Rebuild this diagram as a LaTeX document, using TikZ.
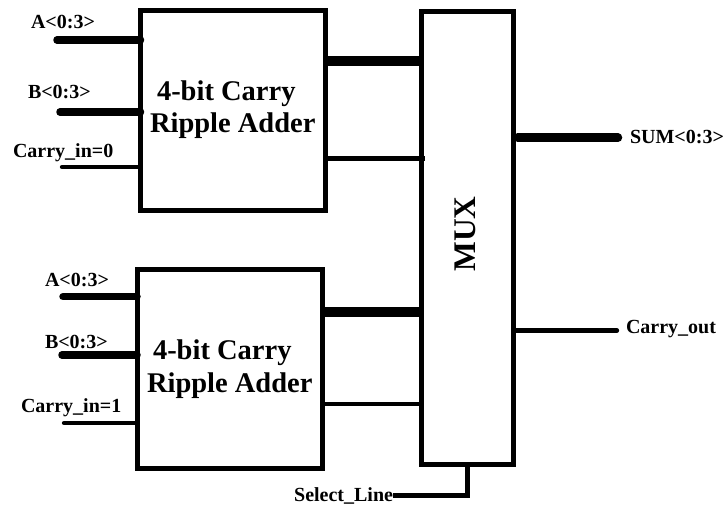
\documentclass[tikz,border=0pt]{standalone}
\usepackage{fontspec}
\setmainfont{Liberation Serif}
\begin{document}
\begin{tikzpicture}[x=1pt,y=-1pt,
  every node/.style={inner sep=0pt,outer sep=0pt},
  box/.style={draw,line width=5pt,rectangle},
  inbus/.style={line width=7.5pt,line cap=round},
  midbus/.style={line width=10pt},
  outbus/.style={line width=8.5pt,line cap=round},
  wire/.style={line width=4.3pt,line cap=round},
  selwire/.style={line width=5pt},
  lbl/.style={font=\fontsize{20}{24}\selectfont\bfseries,anchor=base west},
  ttl/.style={font=\fontsize{28.5}{34}\selectfont\bfseries,anchor=base west},
  muxlbl/.style={font=\fontsize{31.5}{36}\selectfont\bfseries,anchor=base,rotate=90}]
\useasboundingbox (0,0) rectangle (723,507);

% blocks
\node[box,minimum width=184.5pt,minimum height=200pt] (add1) at (232.75,110) {};
\node[box,minimum width=185.5pt,minimum height=199pt] (add2) at (229.75,369) {};
\node[box,minimum width=91.8pt,minimum height=452.5pt] (mux) at (467.6,237.75) {};

% block texts
\node[ttl] (t1a) at (157,100) {4-bit Carry};
\node[ttl] (t1b) at (150,132) {Ripple Adder};
\node[ttl] (t2a) at (153,359) {4-bit Carry};
\node[ttl] (t2b) at (147,392) {Ripple Adder};
\node[muxlbl] (tm) at (475,234) {MUX};

% input free ends
\coordinate (a1) at (57,40);
\coordinate (b1) at (60,112);
\coordinate (c1) at (62,167);
\coordinate (a2) at (63,296.7);
\coordinate (b2) at (62,355);
\coordinate (c2) at (64,423);

\draw[inbus] (a1) -- (a1 -| add1.west);
\draw[inbus] (b1) -- (b1 -| add1.west);
\draw[wire]  (c1) -- (c1 -| add1.west);
\draw[inbus] (a2) -- (a2 -| add2.west);
\draw[inbus] (b2) -- (b2 -| add2.west);
\draw[wire]  (c2) -- (c2 -| add2.west);

% input labels
\node[lbl] (la1) at (31,28.3) {A<0:3>};
\node[lbl] (lb1) at (28,98) {B<0:3>};
\node[lbl] (lc1) at (13,157) {Carry\_in=0};
\node[lbl] (la2) at (45,286) {A<0:3>};
\node[lbl] (lb2) at (45,348) {B<0:3>};
\node[lbl] (lc2) at (21,412) {Carry\_in=1};

% adder to mux
\coordinate (s1) at (0,61);
\coordinate (k1) at (0,158.5);
\coordinate (s2) at (0,312);
\coordinate (k2) at (0,404);
\draw[midbus] (add1.east |- s1) -- (mux.west |- s1);
\draw[wire,line cap=butt] (add1.east |- k1) -- ([xshift=3pt]mux.west |- k1);
\draw[midbus] (add2.east |- s2) -- (mux.west |- s2);
\draw[wire,line cap=butt] (add2.east |- k2) -- (mux.west |- k2);

% outputs
\coordinate (sum) at (618,137.7);
\coordinate (cout) at (617,330.5);
\draw[outbus] ([xshift=4.25pt]mux.east |- sum) -- (sum);
\draw[wire] ([xshift=2.2pt]mux.east |- cout) -- (cout);
\node[lbl] (lsum) at (630,143) {SUM<0:3>};
\node[lbl] (lcout) at (626,333) {Carry\_out};

% select line
\coordinate (sel) at (393,495.5);
\draw[selwire] (sel) -| (mux.south);
\node[lbl,anchor=base east] (lsel) at (sel |- 0,501) {Select\_Line};
\end{tikzpicture}
\end{document}
